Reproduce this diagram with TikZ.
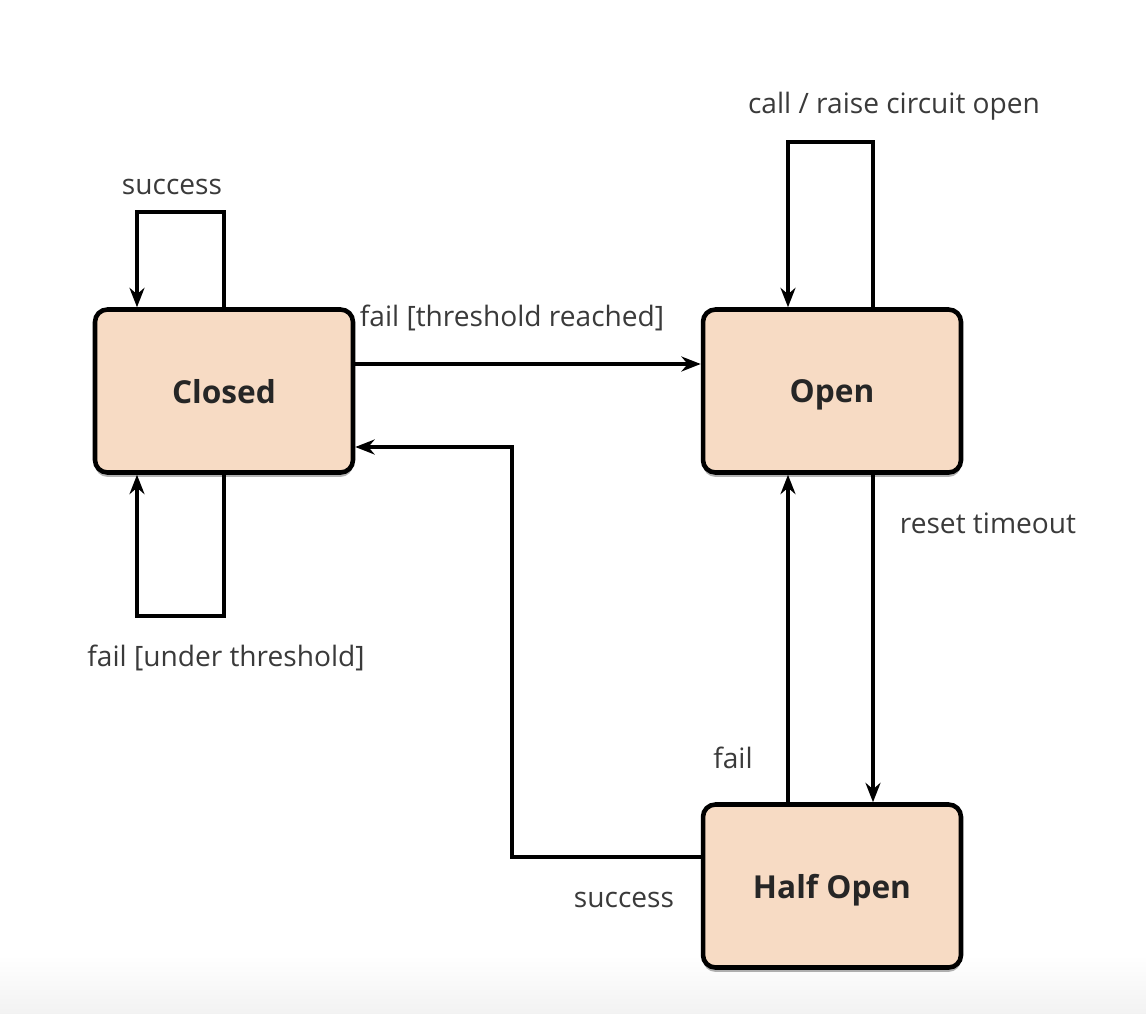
\documentclass[tikz,border=0pt]{standalone}
\usepackage{fontspec}
\setmainfont{Open Sans}
\usepackage{xcolor}
\usetikzlibrary{calc, shadows, arrows.meta}

\definecolor{statefill}{HTML}{F7DBC4}
\definecolor{labelgray}{HTML}{3A3A3A}

\begin{document}
\begin{tikzpicture}[x=0.02cm, y=-0.02cm,
    state/.style={draw=black, line width=2.6pt, rounded corners=7pt, fill=statefill,
        minimum width=5.16cm, minimum height=3.26cm, text depth=0pt,
        font=\fontsize{18}{21}\selectfont\bfseries, text=black!85,
        drop shadow={shadow xshift=0pt, shadow yshift=-2.5pt, opacity=0.3, fill=black}},
    trans/.style={draw=black, line width=2.1pt, -{Stealth[length=11pt, width=8.5pt]}},
    lbl/.style={font=\fontsize{16}{19}\selectfont, text=labelgray, inner sep=1pt}]

    % =================================================================
    % 1. NỀN VÀ KHUNG
    % =================================================================
    \useasboundingbox (0,0) rectangle (1146,1014);
    \fill[white] (0,0) rectangle (1146,1014);
    \shade[top color=white, bottom color=black!5] (0,955) rectangle (1146,1014);

    % =================================================================
    % 2. CÁC TRẠNG THÁI
    % =================================================================
    \node[state] (closed)   at (224,391) {Closed};
    \node[state] (open)     at (832,391) {Open};
    \node[state] (halfopen) at (832,886) {Half Open};

    % =================================================================
    % 3. CÁC CHUYỂN TRẠNG THÁI
    % =================================================================
    % Closed -> Closed (hai vòng lặp)
    \draw[trans] (closed.north) -- ++(0,-95) -| ($(closed.north)+(-87,0)$);
    \draw[trans] (closed.south) -- ++(0,141) -| ($(closed.south)+(-87,0)$);

    % Closed -> Open
    \draw[trans] ($(closed.east)+(0,-27)$) -- ($(open.west)+(0,-27)$);

    % Open -> Open
    \draw[trans] ($(open.north)+(41,0)$) -- ++(0,-165) -| ($(open.north)+(-44,0)$);

    % Open <-> Half Open
    \draw[trans] ($(open.south)+(41,0)$) -- ($(halfopen.north)+(41,0)$);
    \draw[trans] ($(halfopen.north)+(-44,0)$) -- ($(open.south)+(-44,0)$);

    % Half Open -> Closed
    \draw[trans] ($(halfopen.west)+(0,-29)$) -- ++(-189,0) |- ($(closed.east)+(0,56)$);

    % =================================================================
    % 4. NHÃN
    % =================================================================
    \node[lbl] (lsuccesstop) at (172,187) {success};
    \node[lbl] (lunder)      at (226,658) {fail [under threshold]};
    \node[lbl] (lreached)    at (512,318) {fail [threshold reached]};
    \node[lbl] (lcall)       at (894,106) {call / raise circuit open};
    \node[lbl] (lreset)      at (988,523) {reset timeout};
    \node[lbl] (lfail)       at (733,758) {fail};
    \node[lbl] (lsuccess)    at (624,900) {success};

\end{tikzpicture}
\end{document}
